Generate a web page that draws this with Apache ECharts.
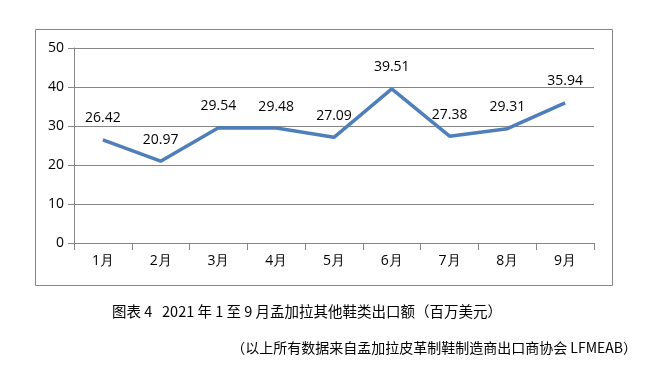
<!DOCTYPE html>
<html><head><meta charset="utf-8">
<script src="https://cdn.jsdelivr.net/npm/echarts@6/dist/echarts.min.js"></script>
<style>html,body{margin:0;padding:0;background:#fff}#c{width:652px;height:374px}</style>
</head><body><div id="c"></div>
<script>
const categories = ['1月','2月','3月','4月','5月','6月','7月','8月','9月'];
const values = [26.42, 20.97, 29.54, 29.48, 27.09, 39.51, 27.38, 29.31, 35.94];
const caption1 = '图表 4   2021 年 1 至 9 月孟加拉其他鞋类出口额（百万美元）';
const caption2 = '（以上所有数据来自孟加拉皮革制鞋制造商出口商协会 LFMEAB）';

const chart = echarts.init(document.getElementById('c'));
const font = '"Open Sans", "Noto Sans", sans-serif';
chart.setOption({
  animation: false,
  grid: {left: 74, right: 58, top: 48, bottom: 131},
  xAxis: {
    type: 'category', data: categories, boundaryGap: true,
    axisLine: {lineStyle: {color: '#868686', width: 1}},
    axisTick: {show: true, length: 7, lineStyle: {color: '#868686'}},
    axisLabel: {color: '#000', fontSize: 14, fontFamily: font, margin: 11}
  },
  yAxis: {
    type: 'value', min: 0, max: 50, interval: 10,
    axisLine: {show: true, lineStyle: {color: '#868686'}},
    axisTick: {show: true, length: 6, lineStyle: {color: '#868686'}},
    axisLabel: {color: '#000', fontSize: 14, fontFamily: font, margin: 10},
    splitLine: {lineStyle: {color: '#868686', width: 1}}
  },
  series: [{
    type: 'line', data: values, symbol: 'circle', symbolSize: 1, showSymbol: true,
    itemStyle: {color: 'rgba(0,0,0,0)'},
    lineStyle: {color: '#4F7FBA', width: 3.5},
    label: {show: true, position: 'top', distance: 14, color: '#000', fontSize: 14, fontFamily: font}
  }],
  graphic: [
    {type: 'rect', shape: {x: 35.5, y: 29.5, width: 577, height: 256}, style: {fill: 'none', stroke: '#868686', lineWidth: 1}, silent: true},
    {type: 'text', left: 112, top: 304, style: {text: caption1, fontSize: 14.5, fill: '#000', fontFamily: '"Noto Sans CJK SC", sans-serif'}},
    {type: 'text', right: 15, top: 341, style: {text: caption2, fontSize: 14, fill: '#000', fontFamily: '"Noto Sans CJK SC", sans-serif'}}
  ]
});
</script></body></html>
